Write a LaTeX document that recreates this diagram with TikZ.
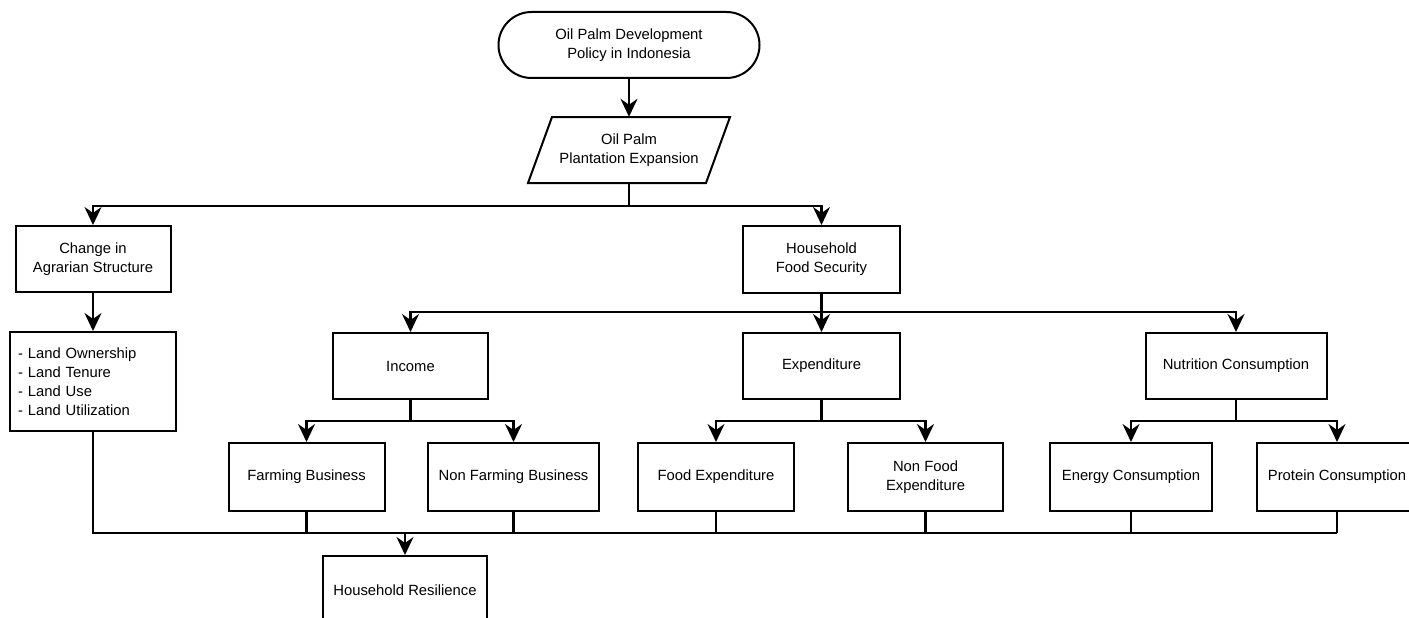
\documentclass[tikz,border=0pt]{standalone}
\usepackage{fontspec}
\setmainfont{Liberation Sans}
\usetikzlibrary{arrows.meta,calc}
\begin{document}
\begin{tikzpicture}[x=1pt,y=-1pt,
  box/.style={draw, line width=2pt, fill=white, align=center, inner sep=0pt,
    font=\fontsize{14.8}{19}\selectfont},
  txt/.style={align=center, inner sep=0pt, font=\fontsize{14.8}{19}\selectfont},
  ln/.style={line width=2.3pt},
  arr/.style={line width=2.3pt, -{Stealth[length=18pt,width=17pt,inset=6pt]}}]
\clip (0,0) rectangle (1409,618);
\fill[white] (0,0) rectangle (1409,618);
% top
\node[box, rounded corners=33pt, minimum width=261pt, minimum height=66pt] (pol) at (629,45) {Oil Palm Development\\Policy in Indonesia};
\node[txt, minimum width=178pt, minimum height=66pt] (exp) at (629,150) {Oil Palm\\Plantation Expansion};
\draw[line width=2pt] (552,117) -- (730,117) -- (706,183) -- (528,183) -- cycle;
\draw[arr] (pol.south) -- (exp.north);
% level 2
\node[box, minimum width=155pt, minimum height=66pt] (cas) at (93,259) {Change in\\Agrarian Structure};
\node[box, minimum width=157pt, minimum height=67pt] (hfs) at (821.5,259.5) {Household\\Food Security};
\coordinate (b1) at (629,206);
\draw[ln] (exp.south) -- (b1);
\draw[arr] (b1) -| (cas.north);
\draw[arr] (b1) -| (hfs.north);
% land list
\node[box, minimum width=166pt, minimum height=99pt, align=left, text width=150pt] (land) at (93,381.5) {- Land Ownership\\- Land Tenure\\- Land Use\\- Land Utilization};
\draw[arr] (cas.south) -- (land.north);
% level 3
\node[box, minimum width=155pt, minimum height=66pt] (inc) at (410.5,366) {Income};
\node[box, minimum width=157pt, minimum height=66pt] (expd) at (821.5,366) {Expenditure};
\node[box, minimum width=181pt, minimum height=66pt] (nut) at (1236,366) {Nutrition Consumption};
\coordinate (b2) at (821.5,312);
\draw[ln] (hfs.south) -- (b2);
\draw[arr] (b2) -| (inc.north);
\draw[arr] (b2) -- (expd.north);
\draw[arr] (b2) -| (nut.north);
% level 4
\node[box, minimum width=156pt, minimum height=68pt] (fb) at (306.5,477) {Farming Business};
\node[box, minimum width=171pt, minimum height=68pt] (nfb) at (513.5,477) {Non Farming Business};
\node[box, minimum width=156pt, minimum height=68pt] (fe) at (716,477) {Food Expenditure};
\node[box, minimum width=155pt, minimum height=68pt] (nfe) at (925.5,477) {Non Food\\Expenditure};
\node[box, minimum width=162pt, minimum height=68pt] (ec) at (1131,477) {Energy Consumption};
\node[box, minimum width=160pt, minimum height=68pt] (pc) at (1337,477) {Protein Consumption};
\coordinate (b3) at (410.5,421);
\coordinate (b4) at (821.5,421);
\coordinate (b5) at (1236,421);
\draw[ln] (inc.south) -- (b3);
\draw[arr] (b3) -| (fb.north);
\draw[arr] (b3) -| (nfb.north);
\draw[ln] (expd.south) -- (b4);
\draw[arr] (b4) -| (fe.north);
\draw[arr] (b4) -| (nfe.north);
\draw[ln] (nut.south) -- (b5);
\draw[arr] (b5) -| (ec.north);
\draw[arr] (b5) -| (pc.north);
% bottom bus
\coordinate (bus) at (405,533);
\node[box, minimum width=164pt, minimum height=68pt] (hr) at (405,590) {Household Resilience};
\draw[ln] (land.south) |- (pc.south |- bus);
\foreach \n in {fb,nfb,fe,nfe,ec,pc} \draw[ln] (\n.south) -- (\n.south |- bus);
\draw[arr] (bus) -- (hr.north);
\end{tikzpicture}
\end{document}
